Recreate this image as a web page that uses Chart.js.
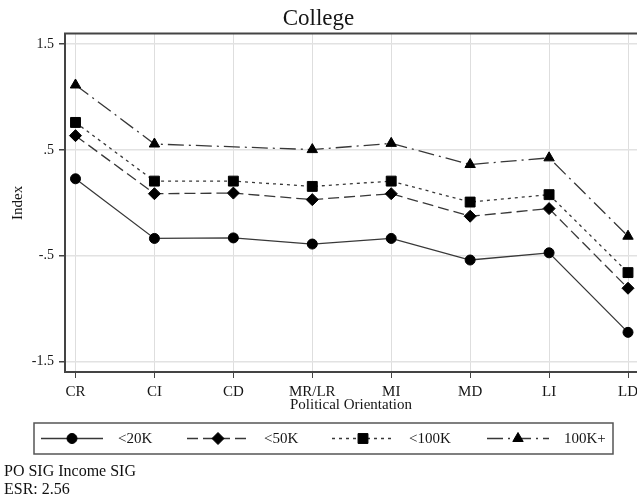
<!DOCTYPE html>
<html>
<head>
<meta charset="UTF-8" />
<title>College</title>
<script src="https://cdn.jsdelivr.net/npm/chart.js@4"></script>
<style>
  html, body { margin: 0; padding: 0; background: #fff; }
  #wrap { position: relative; width: 637px; height: 502px; }
  .note { position: absolute; left: 4px; font: 16px "Liberation Serif", serif; color: #111; line-height: 18px; }
</style>
</head>
<body>
<div id="wrap">
  <canvas id="chart" width="637" height="502"></canvas>
  <div class="note" style="top:462px">PO SIG Income SIG</div>
  <div class="note" style="top:480px">ESR: 2.56</div>
</div>
<script>
// --- data ---
const categories = ['CR', 'CI', 'CD', 'MR/LR', 'MI', 'MD', 'LI', 'LD'];
const seriesNames = ['<20K', '<50K', '<100K', '100K+'];
const under20k  = [0.227, -0.337, -0.332, -0.390, -0.337, -0.541, -0.473, -1.225];
const under50k  = [0.635, 0.086, 0.092, 0.030, 0.086, -0.127, -0.055, -0.808];
const under100k = [0.760, 0.205, 0.205, 0.155, 0.205, 0.007, 0.077, -0.660];
const over100k  = [1.114, 0.556, null, 0.503, 0.562, 0.362, 0.425, -0.316];
const yTicks = [-1.5, -0.5, 0.5, 1.5];
const yTickLabels = ['-1.5', '-.5', '.5', '1.5'];

const seriesValues = [under20k, under50k, under100k, over100k];
const serif = '"Liberation Serif", "Times New Roman", serif';
const ink = '#151515';

// line / marker look per series
const looks = [
  { dash: [], point: 'circle', r: 5 },
  { dash: [11, 5], point: 'rectRot', r: 6 },
  { dash: [3, 4], point: 'rect', r: 7 },
  { dash: [16, 5, 2, 5], point: 'triangle', r: 6 }
];

const datasets = seriesNames.map((name, k) => ({
  label: name,
  data: seriesValues[k].map((v, i) => ({ x: i, y: v })),
  borderColor: '#383838',
  borderWidth: 1.3,
  borderDash: looks[k].dash,
  pointStyle: looks[k].point,
  pointRadius: looks[k].r,
  pointBackgroundColor: '#000',
  pointBorderColor: '#000',
  pointBorderWidth: 1,
  spanGaps: true,
  tension: 0,
  fill: false
}));

// top frame line + boxed legend drawn under the axis
const legendBox = { left: 34, top: 423, width: 579, height: 31 };
const legendEntryX = [41, 187, 332, 487];

const frameAndLegend = {
  id: 'frameAndLegend',
  afterDraw(chart) {
    const ctx = chart.ctx;
    const a = chart.chartArea;
    ctx.save();
    ctx.strokeStyle = '#444';
    ctx.lineWidth = 2;
    ctx.beginPath();
    ctx.moveTo(a.left - 1, a.top);
    ctx.lineTo(a.right, a.top);
    ctx.stroke();

    ctx.strokeStyle = '#555';
    ctx.lineWidth = 1.5;
    ctx.strokeRect(legendBox.left, legendBox.top, legendBox.width, legendBox.height);

    const y = legendBox.top + legendBox.height / 2;
    chart.data.datasets.forEach((ds, k) => {
      const x0 = legendEntryX[k];
      ctx.setLineDash(ds.borderDash);
      ctx.lineWidth = ds.borderWidth;
      ctx.strokeStyle = ds.borderColor;
      ctx.beginPath();
      ctx.moveTo(x0, y);
      ctx.lineTo(x0 + 62, y);
      ctx.stroke();
      ctx.setLineDash([]);
      ctx.fillStyle = '#000';
      ctx.strokeStyle = '#000';
      ctx.lineWidth = 1;
      Chart.helpers.drawPoint(ctx, { pointStyle: ds.pointStyle, radius: ds.pointRadius, borderWidth: 1, rotation: 0 }, x0 + 31, y);
      ctx.fillStyle = ink;
      ctx.font = '15px ' + serif;
      ctx.textBaseline = 'middle';
      ctx.textAlign = 'left';
      ctx.fillText(ds.label, x0 + 77, y + 1);
    });
    ctx.restore();
  }
};

new Chart(document.getElementById('chart'), {
  type: 'line',
  data: { datasets },
  plugins: [frameAndLegend],
  options: {
    responsive: false,
    animation: false,
    layout: { padding: 0, autoPadding: false },
    plugins: {
      legend: { display: false },
      tooltip: { enabled: false },
      title: {
        display: true,
        text: 'College',
        color: ink,
        font: { family: serif, size: 23, weight: 'normal' },
        padding: { top: 5, bottom: 1 }
      }
    },
    scales: {
      x: {
        type: 'linear',
        min: -0.133,
        max: 7.114,
        afterBuildTicks: s => { s.ticks = categories.map((c, i) => ({ value: i })); },
        afterFit: s => { s.height = 130; s.paddingLeft = 0; s.paddingRight = 0; },
        ticks: {
          autoSkip: false,
          maxRotation: 0,
          padding: 5,
          color: ink,
          font: { family: serif, size: 15 },
          callback: (v, i) => categories[i]
        },
        grid: { color: '#dedede', lineWidth: 1, tickLength: 6, tickColor: '#444' },
        border: { color: '#444', width: 2 },
        title: {
          display: true,
          text: 'Political Orientation',
          color: ink,
          font: { family: serif, size: 15 },
          padding: { top: 0, bottom: 88 }
        }
      },
      y: {
        min: -1.6,
        max: 1.6,
        afterBuildTicks: s => { s.ticks = yTicks.map(v => ({ value: v })); },
        afterFit: s => { s.width = 65; },
        ticks: {
          padding: 5,
          color: ink,
          font: { family: serif, size: 14 },
          callback: (v, i) => yTickLabels[i]
        },
        grid: { color: '#e2e2e2', lineWidth: 1.5, tickLength: 6, tickColor: '#444' },
        border: { color: '#444', width: 2 },
        title: {
          display: true,
          text: 'Index',
          color: ink,
          font: { family: serif, size: 15 },
          padding: { top: 9, bottom: 0 }
        }
      }
    }
  }
});
</script>
</body>
</html>
